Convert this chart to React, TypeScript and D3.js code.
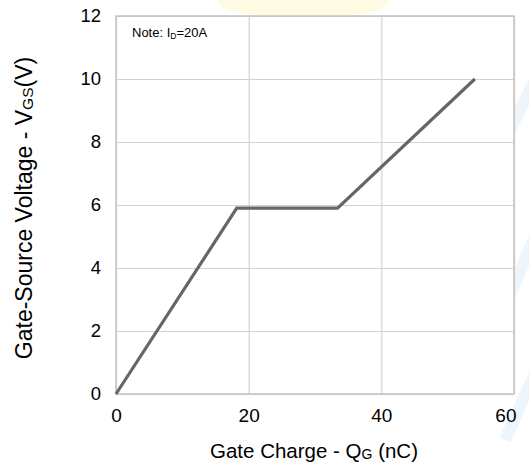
import { useEffect, useRef } from 'react';
import * as d3 from 'd3';

// gate charge curve
const gateCharge = [0, 18.2, 33.4, 54.1];
const gateVoltage = [0, 5.9, 5.9, 10.0];
const xTicks = [0, 20, 40, 60];
const yTicks = [0, 2, 4, 6, 8, 10, 12];

function GateChargeChart() {
	const ref = useRef<SVGSVGElement>(null);

	useEffect(() => {
		const width = 529;
		const height = 466;
		const margin = { top: 16, right: 15, bottom: 72, left: 116 };
		const w = width - margin.left - margin.right;
		const h = height - margin.top - margin.bottom;
		const font = '"Liberation Sans", Arial, sans-serif';

		const root = d3.select(ref.current);
		root.selectAll('*').remove();

		// faint watermark behind the chart
		const wm = root.append('g').attr('class', 'watermark');
		wm.append('ellipse')
			.attr('cx', 303).attr('cy', 2).attr('rx', 85).attr('ry', 16)
			.attr('fill', '#fffbe3');
		[[505, 140, 545, 60], [508, 300, 550, 200], [505, 440, 550, 340]].forEach(([x1, y1, x2, y2]) => {
			wm.append('line')
				.attr('x1', x1).attr('y1', y1).attr('x2', x2).attr('y2', y2)
				.attr('stroke', '#eef5fb').attr('stroke-width', 12);
		});

		const svg = root.append('g')
			.attr('transform', `translate(${margin.left},${margin.top})`);

		const xScale = d3.scaleLinear().domain([0, 60]).range([0, w]);
		const yScale = d3.scaleLinear().domain([0, 12]).range([h, 0]);

		svg.append('rect')
			.attr('width', w).attr('height', h)
			.attr('fill', '#fff');

		svg.append('g')
			.attr('class', 'grid')
			.attr('transform', `translate(0,${h})`)
			.call(d3.axisBottom(xScale).tickValues(xTicks).tickSize(-h).tickFormat(() => ''))
			.call(g => g.select('.domain').remove())
			.call(g => g.selectAll('line').attr('stroke', '#d2d2d2').attr('stroke-width', 1.2));
		svg.append('g')
			.attr('class', 'grid')
			.call(d3.axisLeft(yScale).tickValues(yTicks).tickSize(-w).tickFormat(() => ''))
			.call(g => g.select('.domain').remove())
			.call(g => g.selectAll('line').attr('stroke', '#d2d2d2').attr('stroke-width', 1.2));

		svg.append('rect')
			.attr('width', w).attr('height', h)
			.attr('fill', 'none')
			.attr('stroke', '#c4c4c4')
			.attr('stroke-width', 1.5);

		// tick labels
		svg.append('g')
			.attr('class', 'x-axis')
			.attr('transform', `translate(0,${h})`)
			.call(d3.axisBottom(xScale).tickValues(xTicks).tickSize(0).tickPadding(15))
			.call(g => g.select('.domain').remove())
			.call(g => g.selectAll('text')
				.attr('font-family', font)
				.attr('font-size', 19).attr('fill', '#000'))
			.call(g => g.selectAll<SVGTextElement, number>('text')
				.filter(d => d === 60)
				.attr('text-anchor', 'end').attr('dx', 2));
		svg.append('g')
			.attr('class', 'y-axis')
			.call(d3.axisLeft(yScale).tickValues(yTicks).tickSize(0).tickPadding(15))
			.call(g => g.select('.domain').remove())
			.call(g => g.selectAll('text')
				.attr('font-family', font)
				.attr('font-size', 18.5).attr('fill', '#000'));

		const pts = gateCharge.map((q, i) => [q, gateVoltage[i]] as [number, number]);
		const line = d3.line<[number, number]>()
			.x(d => xScale(d[0]))
			.y(d => yScale(d[1]));
		svg.append('path')
			.datum(pts)
			.attr('fill', 'none')
			.attr('stroke', '#666')
			.attr('stroke-width', 3.2)
			.attr('d', line);

		// note
		const note = svg.append('text')
			.attr('x', 16).attr('y', 21)
			.attr('font-family', font).attr('font-size', 13).attr('fill', '#000');
		note.append('tspan').text('Note: I');
		note.append('tspan').attr('font-size', 8.5).attr('dy', 2).text('D');
		note.append('tspan').attr('dy', -2).text('=20A');

		// axis titles
		const xt = root.append('text')
			.attr('x', 314).attr('y', 458)
			.attr('text-anchor', 'middle')
			.attr('font-family', font).attr('font-size', 20.5).attr('fill', '#000');
		xt.append('tspan').text('Gate Charge - Q');
		xt.append('tspan').attr('font-size', 14).attr('dy', 1).text('G');
		xt.append('tspan').attr('dy', -1).text(' (nC)');

		const yt = root.append('text')
			.attr('transform', `translate(32,208) rotate(-90)`)
			.attr('text-anchor', 'middle')
			.attr('font-family', font).attr('font-size', 23).attr('fill', '#000');
		yt.append('tspan').text('Gate-Source Voltage - V');
		yt.append('tspan').attr('font-size', 15.5).attr('dy', 1).text('GS');
		yt.append('tspan').attr('dy', -1).text('(V)');
	}, []);

	return <svg ref={ref} width={529} height={466} style={{ display: 'block' }} />;
}

export default function App() {
	return (
		<div style={{ position: 'absolute', left: 0, top: 0 }}>
			<GateChargeChart />
		</div>
	);
}
